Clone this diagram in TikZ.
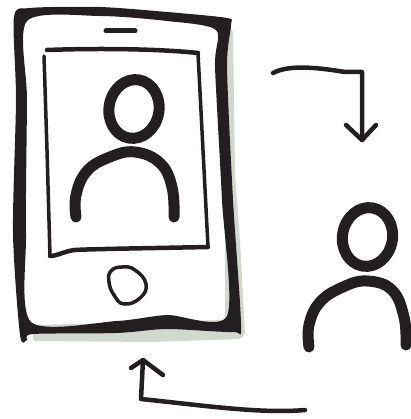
\documentclass[tikz,border=0pt]{standalone}
\usetikzlibrary{positioning}

\definecolor{inkblack}{RGB}{35,31,32}
\definecolor{shadowgrey}{RGB}{211,216,207}

\begin{document}
\begin{tikzpicture}[
    x=1pt, y=-1pt,
    ink/.style={draw=inkblack, line cap=round, line join=round}, % Style for all pen strokes
    bold/.style={ink, line width=11pt}, % Style for the persons
    pointer/.style={ink, line width=4.5pt}, % Style for the two arrows
    thin_pen/.style={ink, line width=3.5pt} % Style for screen and button
]
    \useasboundingbox (0,0) rectangle (410,419);

    % --- Phone ---
    % Shadow
    \fill[shadowgrey, rounded corners=3pt] (225,25) -- (233,30) -- (235,173) -- (240,240) -- (245,335) -- (240,339) -- (153,342) -- (33,341) -- (33,325) -- (225,320) -- cycle;
    % Body
    \fill[inkblack, even odd rule]
        plot[smooth cycle, tension=0.45] coordinates {(14,17) (30,8) (100,7) (167,12) (227,18) (231,25) (227,67) (233,200) (241,325) (233,332) (167,329) (117,333) (33,334) (27,340) (20,335) (13,233) (16,100)}
        plot[smooth cycle, tension=0.45] coordinates {(27,21) (100,16) (167,21) (216,30) (215,67) (222,200) (227,316) (167,315) (117,321) (31,322) (26,233) (27,100)};
    % Speaker
    \draw[ink, line width=5pt] (106,31) -- (135,31);
    % Screen
    \draw[ink, line width=4.5pt] (47,50) .. controls (100,48) and (160,49) .. (198,53);
    \draw[thin_pen] (198,53) -- (203,150) -- (208,247);
    \draw[ink, line width=4.5pt] (208,247) .. controls (160,248) and (90,249) .. (75,250) .. controls (65,251) and (57,256) .. (50,256);
    \draw[thin_pen] (44,56) -- (47,150) -- (50,256);
    % Button
    \draw[thin_pen] plot[smooth cycle, tension=0.8] coordinates {(122,267) (135,270) (146,284) (140,298) (124,304) (114,295) (109,282) (111,271)};

    % --- Person on the screen ---
    \draw[bold] (134,109) ellipse [x radius=25, y radius=29.5, rotate=-10];
    \draw[bold] plot[smooth, tension=0.7] coordinates {(76,217) (76,195) (87,171) (110,157) (135,152) (160,163) (172,187) (174,217)};

    % --- Person on the right ---
    \draw[bold] (367.5,237) ellipse [x radius=25, y radius=29.5, rotate=-10];
    \draw[bold] plot[smooth, tension=0.7] coordinates {(309,347) (309,325) (320,302) (343,287) (367,281) (392,290) (404,317) (406,345)};

    % --- Arrows ---
    \coordinate (out_start) at (273,73);
    \coordinate (out_bend) at (362,72);
    \coordinate (out_tip) at (362,140);
    \draw[pointer] (out_start) .. controls (290,64) and (320,68) .. (345,72) -- (out_bend) -- (out_tip);
    \draw[pointer] (346,125) -- (out_tip) -- (376,125);

    \coordinate (back_start) at (305,410);
    \coordinate (back_bend) at (141,399);
    \coordinate (back_tip) at (143,360);
    \draw[pointer] (back_start) .. controls (260,414) and (200,405) .. (back_bend) -- (back_tip);
    \draw[pointer] (131,368) -- (back_tip) -- (163,375);

\end{tikzpicture}
\end{document}
